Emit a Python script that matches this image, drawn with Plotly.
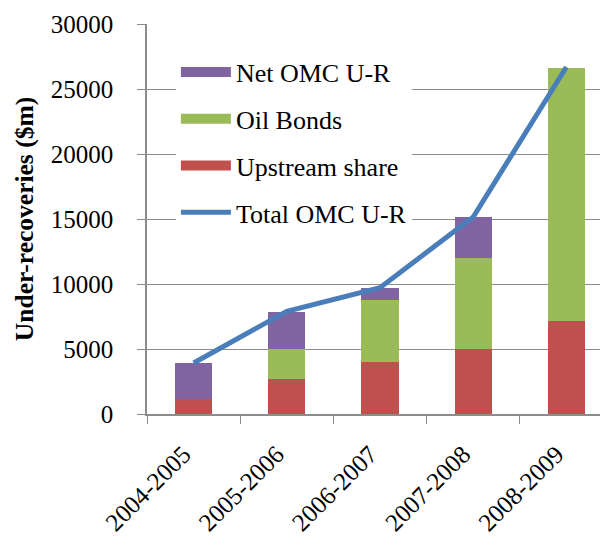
import plotly.graph_objects as go

years = ["2004-2005", "2005-2006", "2006-2007", "2007-2008", "2008-2009"]
upstream = [1150, 2710, 4020, 5020, 7150]
oil_bonds = [0, 2260, 4720, 6950, 19490]
net_omc = [2770, 2870, 950, 3180, 0]
total_omc = [3920, 7900, 9720, 15150, 26690]
y_ticks = [0, 5000, 10000, 15000, 20000, 25000, 30000]

FONT = "Liberation Serif"
GRID = "#8c8c8c"
RED, GREEN, PURPLE, BLUE = "#c0504d", "#9bbb59", "#8064a2", "#4a7ebb"

fig = go.Figure()
fig.add_trace(go.Bar(x=years, y=upstream, name="Upstream share", marker_color=RED,
                     showlegend=False, marker_line_width=0))
fig.add_trace(go.Bar(x=years, y=oil_bonds, name="Oil Bonds", marker_color=GREEN,
                     showlegend=False, marker_line_width=0))
fig.add_trace(go.Bar(x=years, y=net_omc, name="Net OMC U-R", marker_color=PURPLE,
                     showlegend=False, marker_line_width=0))
fig.add_trace(go.Scatter(x=years, y=total_omc, name="Total OMC U-R", mode="lines",
                         line=dict(color=BLUE, width=5), legendrank=4, legendgroup="d"))

# wide rectangular legend swatches like the original
for name, color, rank in [("Net OMC U-R", PURPLE, 1), ("Oil Bonds", GREEN, 2), ("Upstream share", RED, 3)]:
    fig.add_trace(go.Scatter(x=[None], y=[None], mode="lines", name=name,
                             line=dict(color=color, width=14), legendrank=rank, legendgroup=name))

fig.update_layout(
    width=608, height=536,
    margin=dict(l=139, r=3, t=16, b=130),
    barmode="stack", bargap=0.6,
    plot_bgcolor="white", paper_bgcolor="white",
    font=dict(family=FONT, size=25, color="black"),
    legend=dict(x=0.062, y=0.937, xanchor="left", yanchor="top", bgcolor="white",
                traceorder="grouped", tracegroupgap=10, itemwidth=50,
                font=dict(family=FONT, size=26)),
)
fig.update_xaxes(range=[-0.5, 4.5], tickson="boundaries", ticks="outside", ticklen=8,
                 tickcolor=GRID, showline=True, linecolor=GRID, linewidth=1.5,
                 tickangle=-45, showgrid=False, automargin=False,
                 ticklabelstandoff=14, ticklabelshift=-10)
fig.update_yaxes(range=[0, 30000], tickvals=y_ticks, tickformat="d", ticks="outside", ticklen=8,
                 tickcolor=GRID, showline=True, linecolor=GRID, linewidth=1.5,
                 showgrid=True, gridcolor=GRID, gridwidth=1.3, zeroline=False,
                 ticklabelstandoff=19, automargin=False,
                 title=dict(text="<b>Under-recoveries ($m)</b>", standoff=10,
                            font=dict(family=FONT, size=25.5)))

fig.write_html("out.html")
